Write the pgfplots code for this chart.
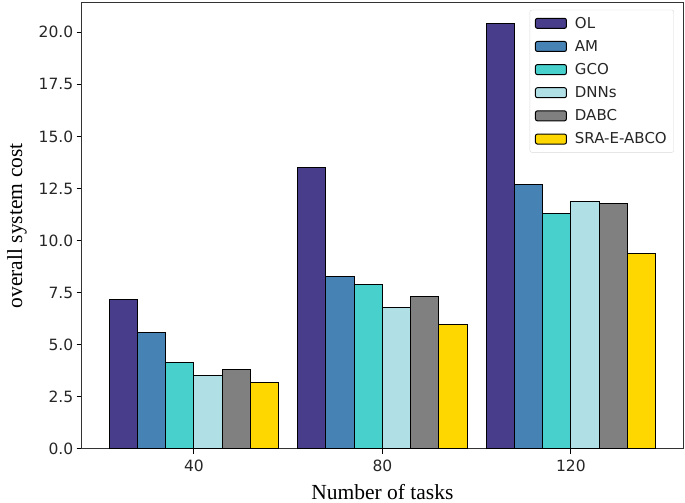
\documentclass[border=0pt]{standalone}
\usepackage{fontspec}
\setmainfont{Liberation Serif}
\newfontfamily\dejavu{DejaVu Sans}
\usepackage{pgfplots}
\pgfplotsset{compat=1.18}
\definecolor{cOL}{HTML}{483D8B}
\definecolor{cAM}{HTML}{4682B4}
\definecolor{cGCO}{HTML}{48D1CC}
\definecolor{cDNN}{HTML}{B0E0E6}
\definecolor{cDABC}{HTML}{808080}
\definecolor{cSRA}{HTML}{FFD700}
\begin{document}
\begin{tikzpicture}
\begin{axis}[
  scale only axis,
  width=601bp, height=446bp,
  xmin=-0.595, xmax=2.595,
  ymin=0, ymax=21.42,
  xtick={0,1,2}, xticklabels={40,80,120},
  ytick={0,2.5,5,7.5,10,12.5,15,17.5,20},
  yticklabel style={/pgf/number format/.cd,fixed,fixed zerofill,precision=1},
  /pgf/number format/assume math mode=true,
  tick label style={font=\dejavu\fontsize{15.5bp}{18bp}\selectfont, text=black!85},
  xticklabel style={yshift=-3bp},
  tick align=outside,
  major tick length=5bp,
  tick style={black, line width=0.8bp},
  xtick pos=bottom, ytick pos=left,
  axis line style={black!80, line width=0.9bp},
  xlabel={Number of tasks},
  ylabel={overall system cost},
  label style={font=\fontsize{21.5bp}{24bp}\selectfont},
  xlabel style={yshift=-5bp},
  ylabel style={yshift=5bp},
  ybar, bar width=0.15,
  every axis plot/.append style={draw=black, line width=1bp},
  legend cell align=left,
  legend style={at={(rel axis cs:0.985,0.984)}, anchor=north east,
    draw=black!15, rounded corners=2bp, fill=white,
    font=\dejavu\fontsize{15bp}{17bp}\selectfont, text=black!85,
    row sep=6.6bp, inner xsep=5bp, inner ysep=5bp,
    /tikz/every odd column/.append style={column sep=6bp}},
  legend image code/.code={\draw[#1] (0bp,-5bp) rectangle (31bp,5bp);},
]
\addplot[fill=cOL, bar shift=-0.375] coordinates {(0,7.17) (1,13.5) (2,20.4)};
\addplot[fill=cAM, bar shift=-0.225] coordinates {(0,5.59) (1,8.29) (2,12.71)};
\addplot[fill=cGCO, bar shift=-0.075] coordinates {(0,4.14) (1,7.89) (2,11.32)};
\addplot[fill=cDNN, bar shift=0.075] coordinates {(0,3.50) (1,6.79) (2,11.88)};
\addplot[fill=cDABC, bar shift=0.225] coordinates {(0,3.79) (1,7.32) (2,11.77)};
\addplot[fill=cSRA, bar shift=0.375] coordinates {(0,3.19) (1,5.99) (2,9.39)};
\legend{OL,AM,GCO,DNNs,DABC,SRA-E-ABCO}
\coordinate (bl) at (rel axis cs:0,0);
\coordinate (tr) at (rel axis cs:1,1);
\end{axis}
\pgfresetboundingbox
\path[use as bounding box] ([xshift=-81.7bp,yshift=-54bp]bl) rectangle ([xshift=2bp,yshift=2.7bp]tr);
\end{tikzpicture}
\end{document}
